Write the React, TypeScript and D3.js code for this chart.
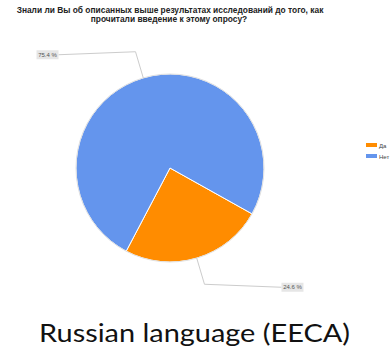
import React from "react";
import * as d3 from "d3";

const categories = ["Да", "Нет"];
const values = [24.6, 75.4];
const labels = ["24.6 %", "75.4 %"];
const colors = ["#ff8c00", "#6495ed"];
const titleLines = [
  "Знали ли Вы об описанных выше результатах исследований до того, как",
  "прочитали введение к этому опросу?",
];
const caption = "Russian language (EECA)";

export default function App() {
  const W = 391, H = 354;
  const cx = 170, cy = 168, r = 94;
  const startDeg = 119.2;
  const pie = d3
    .pie<number>()
    .sort(null)
    .startAngle((startDeg * Math.PI) / 180)
    .endAngle((startDeg * Math.PI) / 180 + 2 * Math.PI);
  const arcs = pie(values);
  const arc = d3.arc<d3.PieArcDatum<number>>().innerRadius(0).outerRadius(r);

  return (
    <svg
      width={W}
      height={H}
      style={{ position: "absolute", left: 0, top: 0, background: "#fff" }}
    >
      <g fontFamily="'Liberation Sans', Arial, sans-serif" fontWeight="bold" fontSize={8.4} fill="#222" textAnchor="middle">
        <text x={170} y={13}>{titleLines[0]}</text>
        <text x={169} y={22}>{titleLines[1]}</text>
      </g>
      <g transform={`translate(${cx},${cy})`}>
        {arcs.map((a, i) => (
          <path key={i} d={arc(a) || ""} fill={colors[i]} stroke="#fff" strokeWidth={1} />
        ))}
        <circle r={r} fill="none" stroke="#d8d8d8" strokeWidth={0.8} />
        {arcs.map((a, i) => {
          const mid = (a.startAngle + a.endAngle) / 2;
          const sx = Math.sin(mid), sy = -Math.cos(mid);
          const p0 = [sx * r, sy * r];
          const p1 = [sx * r * 1.29, sy * r * 1.29];
          const right = sx > 0;
          const lx = p1[0] + (right ? 77 : -77);
          const ly = p1[1] + 3;
          const bw = 22, bh = 9;
          const bx = right ? lx : lx - bw;
          return (
            <g key={"l" + i}>
              <polyline
                points={`${p0[0]},${p0[1]} ${p1[0]},${p1[1]} ${lx},${ly}`}
                fill="none"
                stroke="#cccccc"
                strokeWidth={1}
              />
              <rect x={bx} y={ly - bh / 2} width={bw} height={bh} fill="#e6e6e6" />
              <text
                x={bx + bw / 2}
                y={ly + 2}
                textAnchor="middle"
                fontFamily="'Liberation Sans', Arial, sans-serif"
                fontSize={6}
                fill="#555"
              >
                {labels[i]}
              </text>
            </g>
          );
        })}
      </g>
      <g fontFamily="'Liberation Sans', Arial, sans-serif" fontSize={6} fill="#444">
        {categories.map((c, i) => (
          <g key={c}>
            <rect x={366} y={143 + i * 11} width={11} height={4} fill={colors[i]} />
            <text x={379} y={147.5 + i * 11}>{c}</text>
          </g>
        ))}
      </g>
      <text
        x={39}
        y={342}
        fontFamily="Lato, 'Open Sans', sans-serif"
        fontSize={25.5}
        fill="#111"
        textLength={311}
        lengthAdjust="spacingAndGlyphs"
      >
        {caption}
      </text>
    </svg>
  );
}
